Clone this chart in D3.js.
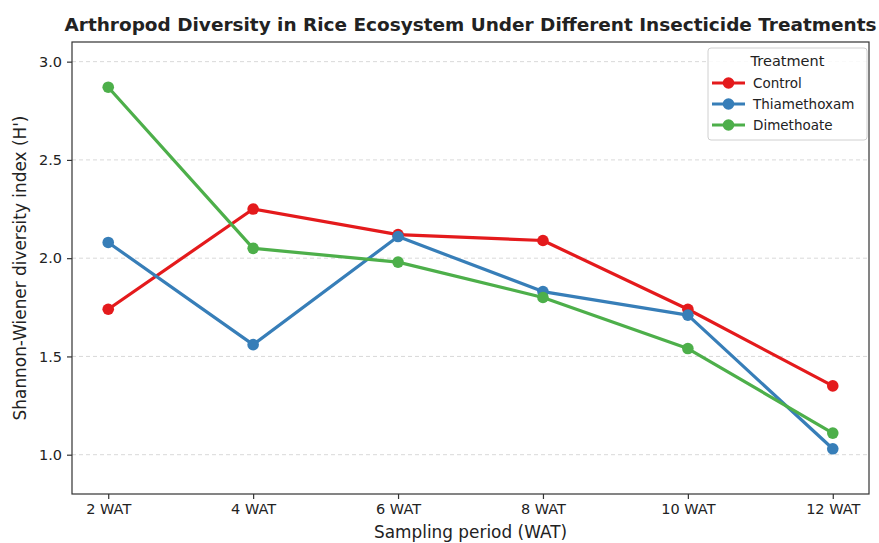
<!DOCTYPE html>
<html>
<head>
<meta charset="utf-8">
<script src="https://cdn.jsdelivr.net/npm/d3@7"></script>
<style>
  body { margin: 0; background: #fff; }
  text { font-family: "DejaVu Sans", sans-serif; fill: #222; }
</style>
</head>
<body>
<div id="chart"></div>
<script>
// Data
const periods = ["2 WAT", "4 WAT", "6 WAT", "8 WAT", "10 WAT", "12 WAT"];
const control = [1.74, 2.25, 2.12, 2.09, 1.74, 1.35];
const thiamethoxam = [2.08, 1.56, 2.11, 1.83, 1.71, 1.03];
const dimethoate = [2.87, 2.05, 1.98, 1.80, 1.54, 1.11];
const yTicks = [1.0, 1.5, 2.0, 2.5, 3.0];

const seriesList = [
    { name: "Control", values: control, color: "#e41a1c" },
    { name: "Thiamethoxam", values: thiamethoxam, color: "#377eb8" },
    { name: "Dimethoate", values: dimethoate, color: "#4daf4a" }
];

const width = 879;
const height = 543;
const margin = { top: 42, right: 10, bottom: 49, left: 72 };

const svg = d3.select("#chart")
    .append("svg")
    .attr("width", width)
    .attr("height", height);

// x scale uses the index of each period, padded like matplotlib
const x = d3.scaleLinear()
    .domain([-0.25, periods.length - 0.75])
    .range([margin.left, width - margin.right]);

const y = d3.scaleLinear()
    .domain([0.8, 3.1])
    .range([height - margin.bottom, margin.top]);

// Dashed grid lines
svg.append("g")
    .selectAll("line")
    .data(yTicks)
    .join("line")
    .attr("x1", margin.left)
    .attr("x2", width - margin.right)
    .attr("y1", d => y(d))
    .attr("y2", d => y(d))
    .attr("stroke", "#d9d9d9")
    .attr("stroke-width", 1)
    .attr("stroke-dasharray", "4,3");

// Axes
const xAxis = d3.axisBottom(x)
    .tickValues(d3.range(periods.length))
    .tickFormat(i => periods[i])
    .tickSize(5)
    .tickPadding(5);

const yAxis = d3.axisLeft(y)
    .tickValues(yTicks)
    .tickFormat(d3.format(".1f"))
    .tickSize(5)
    .tickPadding(5);

const gx = svg.append("g")
    .attr("transform", `translate(0, ${height - margin.bottom})`)
    .call(xAxis);

const gy = svg.append("g")
    .attr("transform", `translate(${margin.left}, 0)`)
    .call(yAxis);

[gx, gy].forEach(g => {
    g.select(".domain").remove();
    g.selectAll(".tick line").attr("stroke", "#333").attr("stroke-width", 1.2);
    g.selectAll(".tick text")
        .style("font-family", "DejaVu Sans, sans-serif")
        .style("font-size", "14.5px")
        .attr("fill", "#222");
});

// Frame around the plot
svg.append("rect")
    .attr("x", margin.left)
    .attr("y", margin.top)
    .attr("width", width - margin.left - margin.right)
    .attr("height", height - margin.top - margin.bottom)
    .attr("fill", "none")
    .attr("stroke", "#333")
    .attr("stroke-width", 1.2);

// Lines and markers
const line = d3.line()
    .x((d, i) => x(i))
    .y(d => y(d));

seriesList.forEach(s => {
    svg.append("path")
        .datum(s.values)
        .attr("fill", "none")
        .attr("stroke", s.color)
        .attr("stroke-width", 3.2)
        .attr("stroke-linejoin", "round")
        .attr("d", line);

    svg.append("g")
        .selectAll("circle")
        .data(s.values)
        .join("circle")
        .attr("cx", (d, i) => x(i))
        .attr("cy", d => y(d))
        .attr("r", 5.8)
        .attr("fill", s.color);
});

// Title
svg.append("text")
    .attr("x", (margin.left + width - margin.right) / 2)
    .attr("y", 31)
    .attr("text-anchor", "middle")
    .style("font-size", "18px")
    .style("font-weight", "bold")
    .attr("textLength", 812)
    .attr("lengthAdjust", "spacingAndGlyphs")
    .attr("fill", "#000")
    .text("Arthropod Diversity in Rice Ecosystem Under Different Insecticide Treatments");

// Axis labels
svg.append("text")
    .attr("x", (margin.left + width - margin.right) / 2)
    .attr("y", 538)
    .attr("text-anchor", "middle")
    .style("font-size", "16.9px")
    .text("Sampling period (WAT)");

svg.append("text")
    .attr("transform", "rotate(-90)")
    .attr("x", -(margin.top + height - margin.bottom) / 2)
    .attr("y", 26)
    .attr("text-anchor", "middle")
    .style("font-size", "16.9px")
    .text("Shannon-Wiener diversity index (H')");

// Legend
const legend = svg.append("g").attr("transform", "translate(708, 48)");

legend.append("rect")
    .attr("width", 159)
    .attr("height", 92)
    .attr("rx", 3)
    .attr("fill", "#fff")
    .attr("fill-opacity", 0.85)
    .attr("stroke", "#d0d0d0");

legend.append("text")
    .attr("x", 79.5)
    .attr("y", 18)
    .attr("text-anchor", "middle")
    .style("font-size", "14.5px")
    .text("Treatment");

seriesList.forEach((s, i) => {
    const row = legend.append("g").attr("transform", `translate(0, ${35 + i * 21})`);
    row.append("line")
        .attr("x1", 4)
        .attr("x2", 37)
        .attr("stroke", s.color)
        .attr("stroke-width", 3.2);
    row.append("circle")
        .attr("cx", 20.5)
        .attr("r", 5.8)
        .attr("fill", s.color);
    row.append("text")
        .attr("x", 45)
        .attr("dy", "0.35em")
        .style("font-size", "13.5px")
        .text(s.name);
});
</script>
</body>
</html>
